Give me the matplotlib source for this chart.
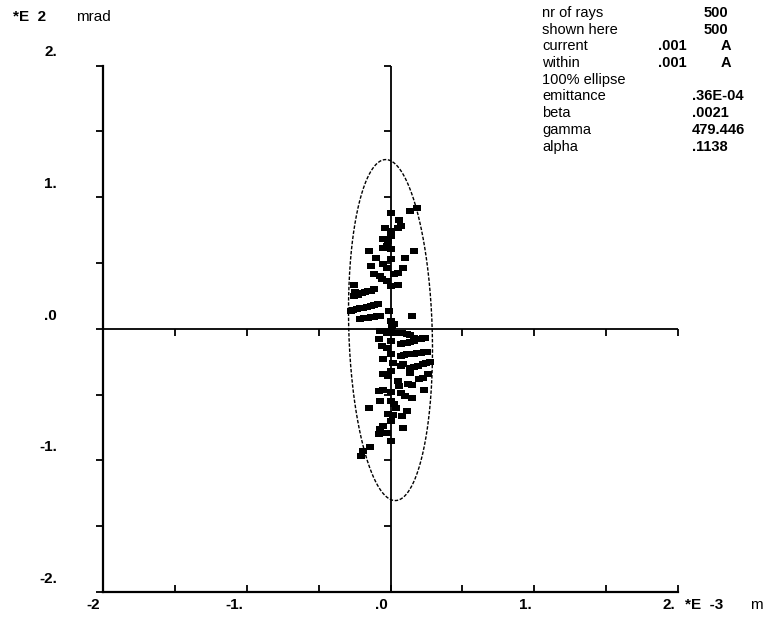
import numpy as np
import matplotlib
matplotlib.use("Agg")
from matplotlib import pyplot as plt
from matplotlib.path import Path
from matplotlib.transforms import offset_copy

# ray positions (x in E-3 m, x' in E2 mrad)
ray_x = [0.139, 0.181, 0.056, 0.070, 0.049, -0.035, 0.000, -0.049, -0.014, -0.049,
         -0.021, 0.000, -0.153, 0.160, 0.104, -0.104, -0.139, -0.049, -0.021, 0.090,
         -0.118, -0.070, 0.021, 0.049, -0.056, -0.021, 0.049, -0.257, -0.230, -0.195,
         -0.160, -0.139, -0.118, -0.257, -0.223, -0.278, -0.230, -0.188, -0.139, -0.090,
         -0.209, -0.160, -0.118, -0.070, 0.153, 0.000, 0.021, -0.070, -0.021, 0.049,
         0.118, 0.160, 0.209, 0.000, -0.083, 0.070, 0.118, 0.160, 0.243, -0.056,
         -0.021, 0.070, 0.118, 0.160, 0.209, 0.257, -0.049, 0.000, 0.014, 0.070,
         0.090, 0.139, 0.188, 0.223, 0.278, -0.049, -0.014, 0.139, 0.195, 0.223,
         0.264, 0.049, 0.056, 0.125, 0.153, -0.083, -0.049, 0.000, 0.230, 0.070,
         0.104, 0.153, -0.070, 0.000, 0.021, -0.153, 0.035, 0.118, -0.014, 0.014,
         0.083, -0.049, -0.070, -0.083, -0.021, 0.090, -0.146, -0.188, -0.202,
         0.000, 0.000, 0.000, 0.000, -0.007, 0.007, 0.000, 0.000, 0.000, 0.000,
         -0.244, -0.209, -0.177, -0.264, -0.209, -0.163, -0.115, -0.185, -0.139, -0.094,
         0.094, 0.139, 0.188, 0.226, 0.094, 0.139, 0.185, 0.233, 0.163, 0.244,
         0.028, 0.083, 0.139, -0.045]
ray_y = [0.891, 0.914, 0.823, 0.784, 0.762, 0.762, 0.746, 0.685, 0.670, 0.617,
         0.625, 0.609, 0.594, 0.594, 0.541, 0.541, 0.480, 0.495, 0.465, 0.465,
         0.419, 0.404, 0.419, 0.427, 0.381, 0.366, 0.335, 0.335, 0.274, 0.274,
         0.289, 0.289, 0.305, 0.251, 0.259, 0.137, 0.152, 0.160, 0.175, 0.190,
         0.076, 0.084, 0.091, 0.099, 0.099, 0.061, 0.038, -0.015, -0.030, -0.030,
         -0.038, -0.069, -0.076, -0.015, -0.076, -0.114, -0.107, -0.091, -0.069, -0.129,
         -0.145, -0.206, -0.190, -0.190, -0.183, -0.175, -0.228, -0.190, -0.259, -0.282,
         -0.267, -0.297, -0.282, -0.267, -0.251, -0.343, -0.358, -0.335, -0.381, -0.373,
         -0.343, -0.396, -0.434, -0.419, -0.427, -0.472, -0.465, -0.480, -0.465, -0.487,
         -0.510, -0.526, -0.548, -0.548, -0.571, -0.602, -0.602, -0.625, -0.647, -0.655,
         -0.663, -0.739, -0.762, -0.800, -0.792, -0.754, -0.899, -0.929, -0.967,
         0.883, 0.708, 0.533, 0.327, 0.137, 0.023, -0.091, -0.320, -0.701, -0.853,
         0.280, 0.270, 0.282, 0.145, 0.156, 0.168, 0.180, 0.080, 0.088, 0.095,
         -0.110, -0.100, -0.080, -0.072, -0.198, -0.190, -0.186, -0.179, -0.290, -0.260,
         -0.030, -0.034, -0.050, -0.020]

# 100% ellipse in plot units
ell_emit = 0.376
ell_beta = 0.227
ell_alpha = 0.1138
ell_cx = 0.0
ell_cy = -0.01

info_labels = ["nr of rays", "shown here", "current", "within", "100% ellipse",
               "emittance", "beta", "gamma", "alpha"]
info_values = ["500", "500", ".001", ".001", "", ".36E-04", ".0021", "479.446", ".1138"]
info_units = ["", "", "A", "A", "", "", "", "", ""]

major_ticks = [-2, -1, 0, 1, 2]
x_labels = ["-2", "-1.", ".0", "1.", "2."]
y_labels = ["-2.", "-1.", ".0", "1.", "2."]
all_ticks = [-2, -1.5, -1, -0.5, 0, 0.5, 1, 1.5, 2]

plt.rcParams['font.family'] = ['Liberation Sans', 'DejaVu Sans']

fig = plt.figure(figsize=(7.75, 6.18), dpi=100)
ax = fig.add_axes([103 / 775, 26 / 618, 575 / 775, 526.5 / 618])
ax.set_xlim(-2, 2)
ax.set_ylim(-2, 2)

for s in ["top", "right"]:
    ax.spines[s].set_visible(False)
ax.spines["left"].set_linewidth(1.6)
ax.spines["bottom"].set_linewidth(1.6)

ax.set_xticks(all_ticks)
ax.set_yticks(all_ticks)
ax.set_xticklabels([])
ax.set_yticklabels([])
ax.tick_params(axis="x", direction="in", length=5, width=1.3)
ax.tick_params(axis="y", direction="out", length=5, width=1.3)

# centre cross with its own ticks
ax.axhline(0, color="k", lw=1.3)
ax.axvline(0, color="k", lw=1.3)
off = [t for t in all_ticks if t != 0]
ax.plot(np.zeros(len(off)), off, ls="none", marker=0, ms=5, mew=1.3, color="k", clip_on=False)
ax.plot(off, np.zeros(len(off)), ls="none", marker=3, ms=5, mew=1.3, color="k", clip_on=False)

# tick labels
ylab_tr = offset_copy(ax.get_yaxis_transform(), fig=fig, x=-46, y=13, units="dots")
for v, lab in zip(major_ticks, y_labels):
    ax.text(0, v, lab, transform=ylab_tr, ha="right", va="center", fontsize=11, fontweight="bold")
xlab_tr = offset_copy(ax.get_xaxis_transform(), fig=fig, x=-3, y=-13, units="dots")
for v, lab in zip(major_ticks, x_labels):
    ax.text(v, 0, lab, transform=xlab_tr, ha="right", va="center", fontsize=11, fontweight="bold")

# ellipse
t = np.linspace(0, 2 * np.pi, 400)
eu = ell_cx + np.sqrt(ell_emit * ell_beta) * np.cos(t)
ev = ell_cy - np.sqrt(ell_emit / ell_beta) * (ell_alpha * np.cos(t) + np.sin(t))
ax.plot(eu, ev, color="k", lw=1.0, ls=(0, (2.5, 1.2)))

# rays, drawn as short horizontal blobs like the plotter marks
blob = Path([(-1.4, -1), (1.4, -1), (1.4, 1), (-1.4, 1), (-1.4, -1)])
ax.plot(ray_x, ray_y, ls="none", marker=blob, ms=5.6, mew=0, color="k")

# unit labels
fig.text(13 / 775, 1 - 17 / 618, "*E  2", fontsize=11, fontweight="bold", va="center")
fig.text(76 / 775, 1 - 17 / 618, "mrad", fontsize=11, va="center")
fig.text(685 / 775, 1 - 605 / 618, "*E  -3", fontsize=11, fontweight="bold", va="center")
fig.text(750 / 775, 1 - 605 / 618, "m", fontsize=11, va="center")

# info block
for i, (lab, val, unit) in enumerate(zip(info_labels, info_values, info_units)):
    yy = 1 - (13 + 16.7 * i) / 618
    fig.text(542 / 775, yy, lab, fontsize=10.5, va="center")
    if val == "500":
        fig.text(728 / 775, yy, val, fontsize=10.5, va="center", ha="right", fontweight="bold")
    elif val == ".001":
        fig.text(658 / 775, yy, val, fontsize=10.5, va="center", fontweight="bold")
    elif val:
        fig.text(692 / 775, yy, val, fontsize=10.5, va="center", fontweight="bold")
    if unit:
        fig.text(726 / 775, yy, unit, fontsize=10.5, va="center", ha="center", fontweight="bold")

fig.savefig("out.png", dpi=100)
